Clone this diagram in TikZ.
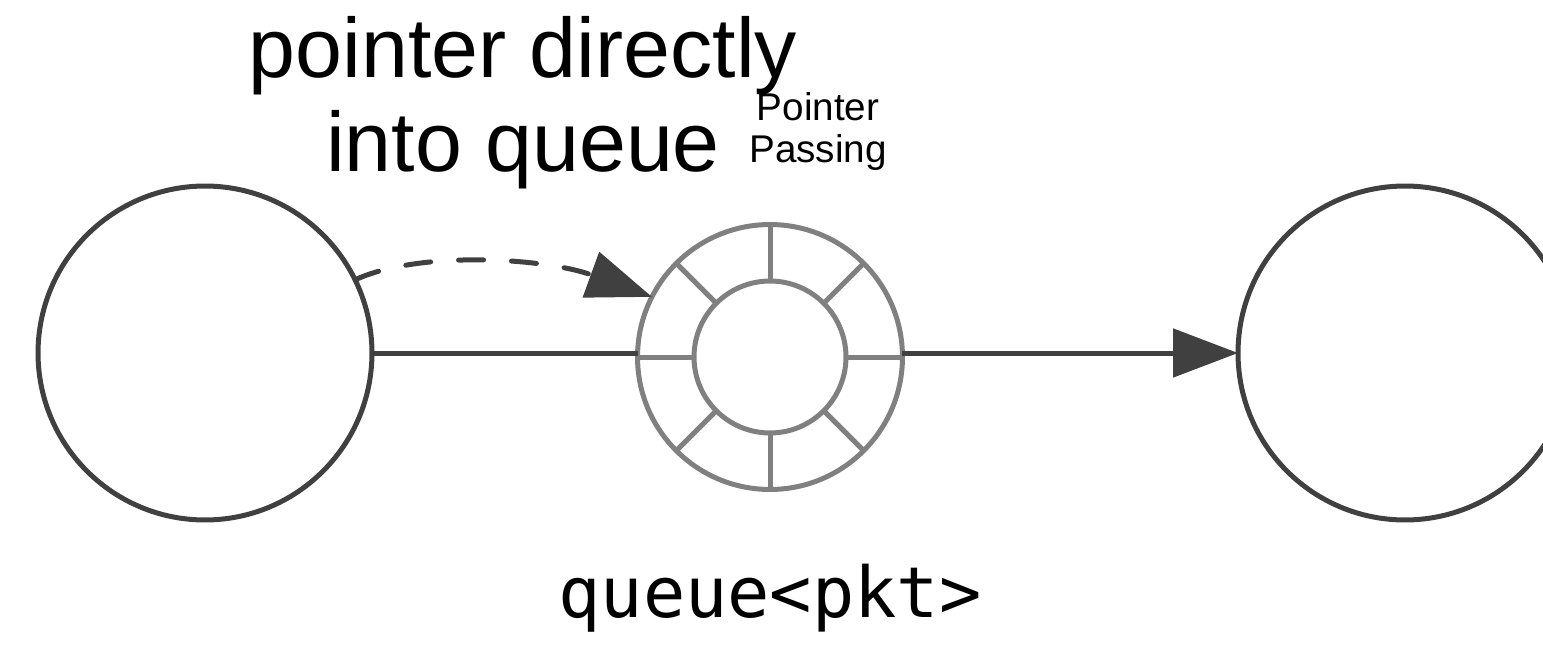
\documentclass[tikz,border=0pt]{standalone}
\usepackage{fontspec}
\setmainfont{Liberation Sans}
\newfontfamily\codefont{DejaVu Sans Mono}
\usepackage{tikz}
\usetikzlibrary{
    arrows.meta,
    calc,
    positioning
}
\definecolor{darkline}{HTML}{404040}
\definecolor{ringgray}{HTML}{808080}
\tikzset{
    stage/.style={draw=darkline, circle, line width=0.1cm, minimum size=6.68cm, outer sep=0pt},
    ringbox/.style={draw=ringgray, circle, line width=0.1cm, outer sep=0pt},
    flow/.style={draw=darkline, line width=0.1cm},
    bigtip/.style={-{Triangle[length=1.3cm, width=0.96cm]}},
    label/.style={inner sep=0pt, anchor=base}
}

\begin{document}
\begin{tikzpicture}[x=0.02cm, y=-0.02cm]
                        \useasboundingbox (0, 0) rectangle (1543, 646);

                        \node[stage] (prod) at (205, 353) {};
                        \node[stage] (cons) at (1405, 353) {};
                        \node[ringbox, minimum size=5.3cm] (ring) at (770, 357) {};
                        \node[ringbox, minimum size=3.04cm] (slot) at (770, 357) {};
                        \foreach \a in {0, 45, ..., 315}
                            \draw[ringgray, line width=0.1cm] (slot.\a) -- (ring.\a);

                        \node[label, font=\fontsize{48}{48}\selectfont] (top1) at (523, 77) {pointer directly};
                        \node[label, font=\fontsize{48}{48}\selectfont] (top2) at (523, 171) {into queue};
                        \node[label, font=\fontsize{22}{22}\selectfont] (pp1) at (818, 120) {Pointer};
                        \node[label, font=\fontsize{22}{22}\selectfont] (pp2) at (818, 162) {Passing};
                        \node[label, font=\codefont\fontsize{40}{40}\selectfont] (qname) at (770, 617) {queue<pkt>};

                        \draw[flow]
                        (prod.east) -- (prod.east -| ring.west);
                        \draw[flow, bigtip]
                        (ring.east |- cons.west) -- (cons.west);
                        \draw[flow, line cap=round, dash pattern=on 0.5cm off 0.56cm,
                              -{Triangle[length=1.3cm, width=0.95cm]}]
                        (prod.26) .. controls (420, 250) and (545, 258) .. (ring.153);
                    \end{tikzpicture}
\end{document}
